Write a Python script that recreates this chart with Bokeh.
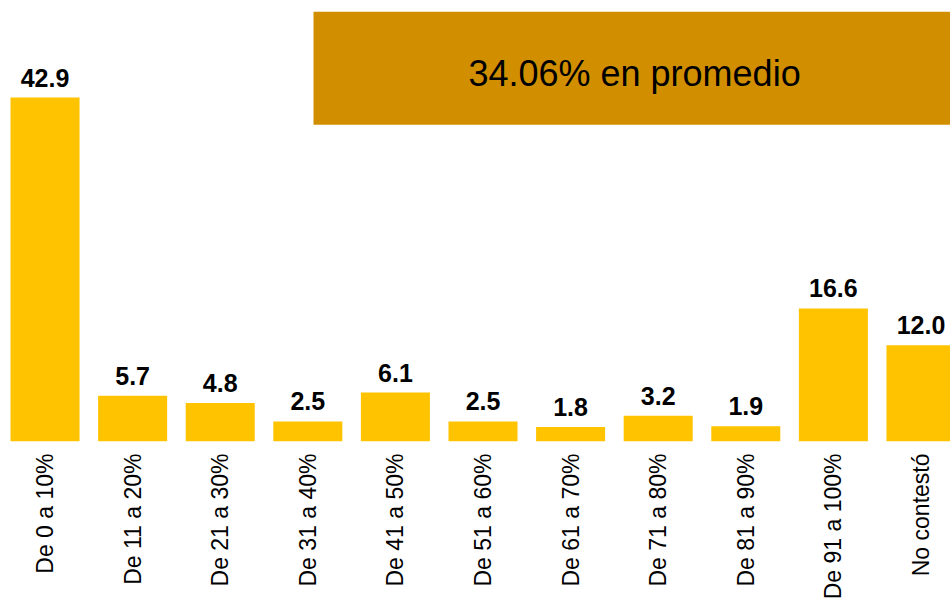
import math
from bokeh.plotting import figure
from bokeh.models import Range1d, ColumnDataSource, FixedTicker, LabelSet
from bokeh.core.properties import value
from bokeh.embed import file_html
from bokeh.resources import INLINE

categories = ["De 0 a 10%", "De 11 a 20%", "De 21 a 30%", "De 31 a 40%", "De 41 a 50%",
              "De 51 a 60%", "De 61 a 70%", "De 71 a 80%", "De 81 a 90%", "De 91 a 100%",
              "No contestó"]
values = [42.9, 5.7, 4.8, 2.5, 6.1, 2.5, 1.8, 3.2, 1.9, 16.6, 12.0]
average_text = "34.06% en promedio"

idx = list(range(len(categories)))
labels = [f"{v:.1f}" for v in values]
src = ColumnDataSource(dict(x=idx, top=values, label=labels))

FONT = "Liberation Sans"

p = figure(frame_width=942, frame_height=433, output_backend="svg", toolbar_location=None,
           x_range=Range1d(-0.417, 10.337), y_range=Range1d(0, 54.0),
           min_border=0, min_border_left=8, min_border_right=0, min_border_top=8,
           min_border_bottom=0)
p.outline_line_color = None
p.xgrid.visible = False
p.ygrid.visible = False
p.yaxis.visible = False
p.background_fill_color = "white"

# average box
p.quad(left=3.065, right=11, bottom=39.5, top=53.6, fill_color="#D18F00", line_color=None)
p.text(x=[6.73], y=[45.9], text=[average_text], text_font=value(FONT), text_font_size="36px",
       text_align="center", text_baseline="middle", text_color="black")

p.vbar(x="x", top="top", width=0.788, bottom=0, source=src, fill_color="#FFC300", line_color=None)
lbl = LabelSet(x="x", y="top", text="label", source=src, text_font=value(FONT),
               text_font_size=value("25px"), text_font_style="bold", text_align="center",
               text_baseline="alphabetic", y_offset=11, text_color="black")
p.add_layout(lbl)

ax = p.xaxis[0]
ax.ticker = FixedTicker(ticks=idx)
ax.major_label_overrides = {i: c for i, c in zip(idx, categories)}
ax.major_label_orientation = math.pi / 2
ax.major_label_text_font = FONT
ax.major_label_text_font_size = "23px"
ax.major_label_text_color = "black"
ax.major_label_standoff = 12
ax.axis_line_color = None
ax.major_tick_line_color = None
ax.minor_tick_line_color = None
ax.major_tick_in = 0
ax.major_tick_out = 0

open("out.html", "w").write(file_html(p, INLINE))
